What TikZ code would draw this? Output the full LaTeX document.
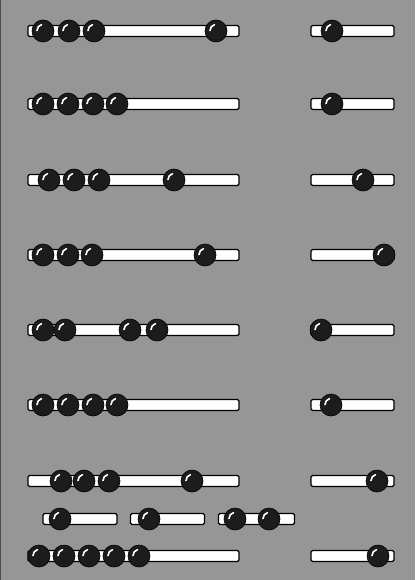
\documentclass[tikz,border=0pt]{standalone}
\usetikzlibrary{positioning}
\definecolor{boardGray}{RGB}{150,150,150}
\definecolor{beadBlack}{RGB}{28,28,28}
\tikzset{
  rod/.style={draw=black, fill=white, line width=1.3pt, rounded corners=1.5pt,
    minimum height=11pt, minimum width=#1, inner sep=0pt},
  bead/.style={circle, draw=black, fill=beadBlack, line width=0.6pt,
    minimum size=22pt, inner sep=0pt,
    path picture={\draw[white, line width=1.6pt, line cap=round]
      ([shift={(-6pt,0.5pt)}]path picture bounding box.center)
      arc[start angle=180, end angle=105, radius=6pt];}},
}

\begin{document}
\begin{tikzpicture}[x=1pt, y=-1pt]

% BOARD
\useasboundingbox (0,0) rectangle (415,580);
\fill[boardGray] (0,0) rectangle (415,580);
\draw[black!70, line width=1pt] (0.5,0) -- (0.5,580);

%% RODS
\node[rod=211pt] (rod1L) at (133.5,31) {};
\node[rod=83pt]  (rod1R) at (352.5,31) {};
\node[rod=211pt] (rod2L) at (133.5,104) {};
\node[rod=83pt]  (rod2R) at (352.5,104) {};
\node[rod=211pt] (rod3L) at (133.5,180) {};
\node[rod=83pt]  (rod3R) at (352.5,180) {};
\node[rod=211pt] (rod4L) at (133.5,255) {};
\node[rod=83pt]  (rod4R) at (352.5,255) {};
\node[rod=211pt] (rod5L) at (133.5,330) {};
\node[rod=83pt]  (rod5R) at (352.5,330) {};
\node[rod=211pt] (rod6L) at (133.5,405) {};
\node[rod=83pt]  (rod6R) at (352.5,405) {};
\node[rod=211pt] (rod7L) at (133.5,481) {};
\node[rod=83pt]  (rod7R) at (352.5,481) {};
\node[rod=74pt]  (rod8A) at (80,519) {};
\node[rod=74pt]  (rod8B) at (167.5,519) {};
\node[rod=76pt]  (rod8C) at (256.5,519) {};
\node[rod=211pt] (rod9L) at (133.5,556) {};
\node[rod=83pt]  (rod9R) at (352.5,556) {};

%% BEADS
\foreach \x [count=\i] in {43,69,94,216}
  \node[bead] (b1-\i) at (\x,31) {};
\node[bead] (b1R) at (332,31) {};

\foreach \x [count=\i] in {43,68,93,117}
  \node[bead] (b2-\i) at (\x,104) {};
\node[bead] (b2R) at (332,104) {};

\foreach \x [count=\i] in {49,74,99,174}
  \node[bead] (b3-\i) at (\x,180) {};
\node[bead] (b3R) at (363,180) {};

\foreach \x [count=\i] in {43,68,92,205}
  \node[bead] (b4-\i) at (\x,255) {};
\node[bead] (b4R) at (384,255) {};

\foreach \x [count=\i] in {43,65,130,157}
  \node[bead] (b5-\i) at (\x,330) {};
\node[bead] (b5R) at (321,330) {};

\foreach \x [count=\i] in {43,68,93,117}
  \node[bead] (b6-\i) at (\x,405) {};
\node[bead] (b6R) at (331,405) {};

\foreach \x [count=\i] in {61,84,109,192}
  \node[bead] (b7-\i) at (\x,481) {};
\node[bead] (b7R) at (377,481) {};

\node[bead] (b8A) at (60,519) {};
\node[bead] (b8B) at (149,519) {};
\node[bead] (b8C1) at (235,519) {};
\node[bead] (b8C2) at (269,519) {};

\foreach \x [count=\i] in {39,64,89,114,139}
  \node[bead] (b9-\i) at (\x,556) {};
\node[bead] (b9R) at (378,556) {};

\end{tikzpicture}
\end{document}
